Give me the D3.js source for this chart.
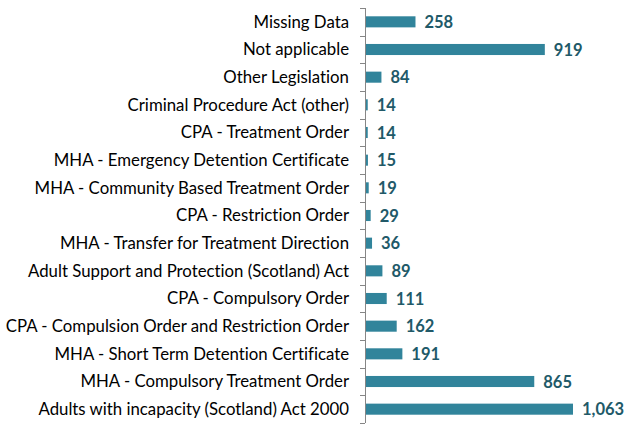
<!DOCTYPE html>
<html>
<head>
<meta charset="utf-8">
<script src="https://cdn.jsdelivr.net/npm/d3@7"></script>
<style>
  body { margin: 0; background: #fff; }
  svg { display: block; }
  text { font-variant-ligatures: none; font-feature-settings: "liga" 0, "dlig" 0; }
</style>
</head>
<body>
<script>
// Categorías (de arriba a abajo) y valores
const categorias = [
  "Missing Data",
  "Not applicable",
  "Other Legislation",
  "Criminal Procedure Act (other)",
  "CPA - Treatment Order",
  "MHA - Emergency Detention Certificate",
  "MHA - Community Based Treatment Order",
  "CPA - Restriction Order",
  "MHA - Transfer for Treatment Direction",
  "Adult Support and Protection (Scotland) Act",
  "CPA - Compulsory Order",
  "CPA - Compulsion Order and Restriction Order",
  "MHA - Short Term Detention Certificate",
  "MHA - Compulsory Treatment Order",
  "Adults with incapacity (Scotland) Act 2000"
];
const valores = [258, 919, 84, 14, 14, 15, 19, 29, 36, 89, 111, 162, 191, 865, 1063];

const width = 634;
const height = 432;
const margin = { top: 8, right: 61, bottom: 9, left: 365 };

const svg = d3
  .select("body")
  .append("svg")
  .attr("width", width)
  .attr("height", height);

const x = d3
  .scaleLinear()
  .domain([0, d3.max(valores)])
  .range([margin.left, width - margin.right]);

const y = d3
  .scaleBand()
  .domain(categorias)
  .range([margin.top, height - margin.bottom])
  .paddingInner(0.6)
  .paddingOuter(0.3);

const datos = categorias.map((c, i) => ({ cat: c, val: valores[i] }));

// Barras
svg
  .selectAll("rect.bar")
  .data(datos)
  .enter()
  .append("rect")
  .attr("class", "bar")
  .attr("x", x(0))
  .attr("y", (d) => y(d.cat))
  .attr("width", (d) => x(d.val) - x(0))
  .attr("height", y.bandwidth())
  .attr("fill", "#31849b");

// Eje vertical con marcas entre categorías
const eje = svg.append("g").attr("stroke", "#868686").attr("stroke-width", 1);
eje
  .append("line")
  .attr("x1", x(0) + 0.5)
  .attr("x2", x(0) + 0.5)
  .attr("y1", margin.top)
  .attr("y2", height - margin.bottom);
const paso = (height - margin.bottom - margin.top) / categorias.length;
d3.range(categorias.length + 1).forEach((i) => {
  const yy = Math.round(margin.top + i * paso) + 0.5;
  eje
    .append("line")
    .attr("x1", x(0) - 5)
    .attr("x2", x(0))
    .attr("y1", yy)
    .attr("y2", yy);
});

// Etiquetas de categoría
svg
  .selectAll("text.cat")
  .data(datos)
  .enter()
  .append("text")
  .attr("class", "cat")
  .attr("x", x(0) - 16)
  .attr("y", (d) => y(d.cat) + y.bandwidth() / 2)
  .attr("dy", "0.35em")
  .attr("text-anchor", "end")
  .attr("font-family", "Lato, sans-serif")
  .attr("font-size", "16.8px")
  .attr("fill", "#000")
  .text((d) => d.cat);

// Etiquetas de valores
svg
  .selectAll("text.val")
  .data(datos)
  .enter()
  .append("text")
  .attr("class", "val")
  .attr("x", (d) => x(d.val) + 9)
  .attr("y", (d) => y(d.cat) + y.bandwidth() / 2)
  .attr("dy", "0.38em")
  .attr("font-family", "Lato, sans-serif")
  .attr("font-weight", "bold")
  .attr("font-size", "16.5px")
  .attr("fill", "#215968")
  .text((d) => d3.format(",")(d.val));
</script>
</body>
</html>
